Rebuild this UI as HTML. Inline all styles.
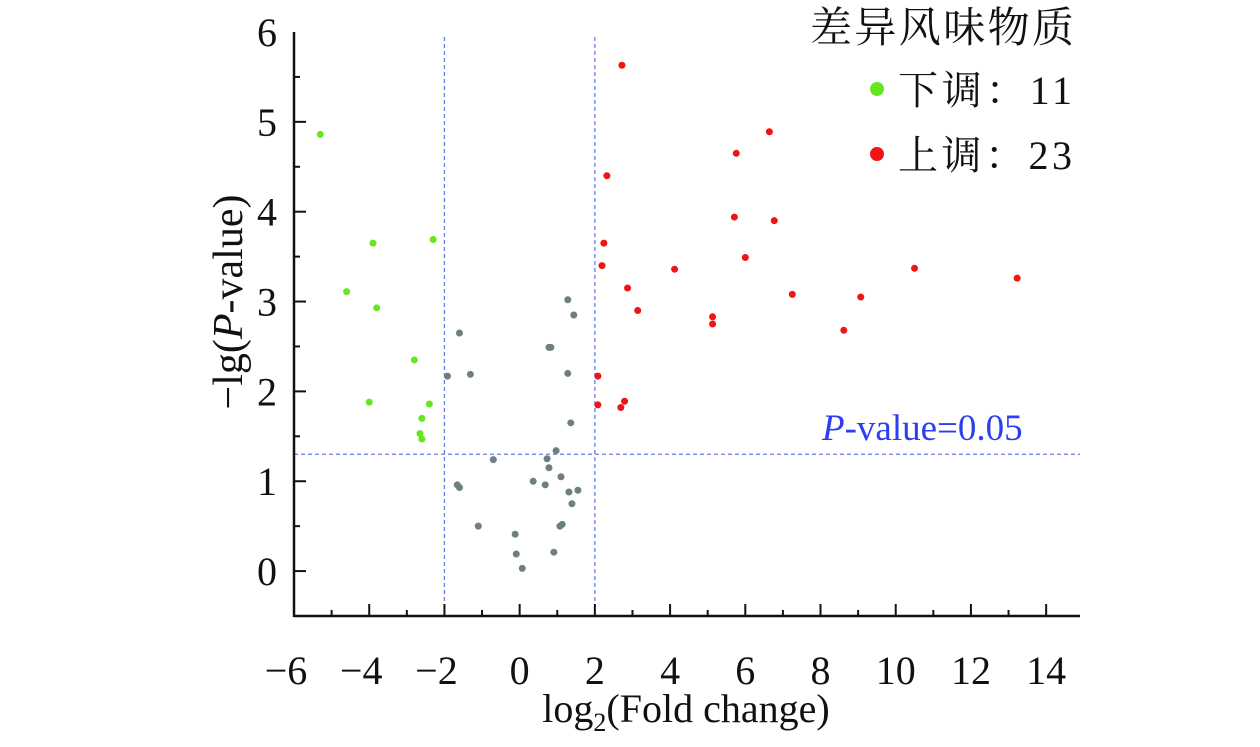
<!DOCTYPE html>
<html><head><meta charset="utf-8"><style>
html,body{margin:0;padding:0;background:#fff;}
svg text{font-family:"Liberation Serif","Noto Serif CJK SC",serif;fill:#111;}
</style></head><body>
<svg id="chart" width="1260" height="742" viewBox="0 0 1260 742" xmlns="http://www.w3.org/2000/svg">
<g id="grid"></g>
<g id="points"></g>
<g id="axes"></g>
<text x="822" y="440" font-size="37" fill="#2b3ff0" style="fill:#2b3ff0"><tspan font-style="italic">P</tspan>-value=0.05</text>
<text x="686" y="722" font-size="40" text-anchor="middle">log<tspan font-size="26" dy="9">2</tspan><tspan dy="-9">(Fold change)</tspan></text>
<text transform="translate(242,302) rotate(-90)" font-size="42" text-anchor="middle">−lg(<tspan font-style="italic">P</tspan>-value)</text>
<g>
<text x="1074" y="42" font-size="42" text-anchor="end" textLength="264">差异风味物质</text>
<circle cx="877" cy="89" r="7" fill="#66e61e"/>
<text x="898" y="104" font-size="40" textLength="174">下调：11</text>
<circle cx="877" cy="154" r="7" fill="#f01414"/>
<text x="898" y="169" font-size="40" textLength="174">上调：23</text>
</g>
</svg>
<script>
const downX=[-5.3,-3.9,-4.6,-3.8,-2.3,-2.8,-4.0,-2.4,-2.6,-2.65,-2.6];
const downY=[4.86,3.65,3.11,2.93,3.69,2.35,1.88,1.86,1.70,1.53,1.47];
const upX=[2.72,6.64,5.76,2.32,5.71,6.77,2.24,6.0,2.19,4.12,10.5,13.23,2.87,7.25,9.07,3.14,5.13,5.13,8.62,2.08,2.08,2.79,2.69];
const upY=[5.63,4.89,4.65,4.40,3.94,3.90,3.65,3.49,3.40,3.36,3.37,3.26,3.15,3.08,3.05,2.90,2.83,2.75,2.68,2.17,1.85,1.89,1.82];
const nsX=[1.28,1.44,-1.60,0.78,0.83,-1.92,-1.31,1.28,1.36,0.97,0.73,-0.70,0.78,1.10,0.36,-1.66,-1.60,0.68,1.55,1.31,1.39,-1.10,1.07,1.13,-0.12,-0.09,0.91,0.07];
const nsY=[3.02,2.85,2.65,2.49,2.49,2.17,2.19,2.20,1.65,1.34,1.25,1.24,1.15,1.05,1.00,0.96,0.93,0.96,0.90,0.88,0.75,0.50,0.50,0.52,0.41,0.19,0.21,0.03];
const xTicks=[-6,-4,-2,0,2,4,6,8,10,12,14];
const yTicks=[0,1,2,3,4,5,6];
const fcCut=[-2,2];
const pCut=[1.3];
const X0=294,X1=1080,Y0=616,Y1=32,XMIN=-6,XMAX=14.9,YMIN=-0.5,YMAX=6;
const sx=v=>X0+(v-XMIN)/(XMAX-XMIN)*(X1-X0);
const sy=v=>Y0-(v-YMIN)/(YMAX-YMIN)*(Y0-Y1);
const NS='http://www.w3.org/2000/svg';
function mk(tag,attrs,parent){const e=document.createElementNS(NS,tag);for(const k in attrs)e.setAttribute(k,attrs[k]);parent.appendChild(e);return e;}
const grid=document.getElementById('grid'),pts=document.getElementById('points'),ax=document.getElementById('axes');
fcCut.forEach(v=>{const l=mk('line',{x1:sx(v),x2:sx(v),y1:Y1+5,y2:Y0,stroke:'#6a7cf0','stroke-width':1.3,'stroke-dasharray':'4,3'},grid);

});
pCut.forEach(v=>{const l=mk('line',{x1:X0,x2:X1,y1:sy(v),y2:sy(v),stroke:'#6a7cf0','stroke-width':1.3,'stroke-dasharray':'4,3'},grid);

});
function drawSet(xs,ys,col,name){xs.forEach((x,i)=>{const c=mk('circle',{cx:sx(x),cy:sy(ys[i]),r:3.5,fill:col},pts);

});}
drawSet(nsX,nsY,'#6f7f7f','point-not-significant');
drawSet(downX,downY,'#66e61e','point-down');
drawSet(upX,upY,'#f01414','point-up');
const xa=mk('line',{x1:X0,x2:X1,y1:Y0,y2:Y0,stroke:'#111','stroke-width':2.5},ax);


const ya=mk('line',{x1:X0,x2:X0,y1:Y1,y2:Y0+1,stroke:'#111','stroke-width':2.5},ax);


for(let v=-6;v<=14;v++){const major=v%2===0;mk('line',{x1:sx(v),x2:sx(v),y1:Y0,y2:Y0-(major?12:6),stroke:'#111','stroke-width':2},ax);}
xTicks.forEach(v=>{const t=mk('text',{x:sx(v)-(v<0?8:0),y:684,'font-size':40,'text-anchor':'middle'},ax);t.textContent=(v<0?'−':'')+Math.abs(v);

});
for(let v=0;v<=5.5;v+=0.5){const major=Math.abs(v-Math.round(v))<0.01;mk('line',{x1:X0,x2:X0+(major?12:6),y1:sy(v),y2:sy(v),stroke:'#111','stroke-width':2},ax);}
yTicks.forEach(v=>{const t=mk('text',{x:267,y:sy(v)+14,'font-size':40,'text-anchor':'middle'},ax);t.textContent=v;

});
</script>
</body></html>
